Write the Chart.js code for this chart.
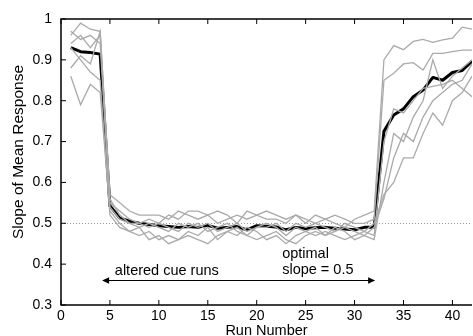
<!DOCTYPE html>
<html>
<head>
<meta charset="utf-8">
<script src="https://cdn.jsdelivr.net/npm/chart.js@4"></script>
<style>
html, body { margin: 0; padding: 0; background: #fff; }
</style>
</head>
<body>
<canvas id="chart" width="473" height="336"></canvas>
<script>
var runs = [1,2,3,4,5,6,7,8,9,10,11,12,13,14,15,16,17,18,19,20,21,22,23,24,25,26,27,28,29,30,31,32,33,34,35,36,37,38,39,40,41,42];

// individual subjects (grey)
var subj1 = [0.96,0.99,0.975,0.97, 0.57,0.55,0.53,0.52,0.52,0.52,0.51,0.53,0.52,0.51,0.52,0.50,0.51,0.52,0.51,0.52,0.51,0.51,0.50,0.52,0.51,0.50,0.51,0.50,0.49,0.51,0.52,0.53, 0.90,0.935,0.925,0.945,0.95,0.943,0.949,0.953,0.98,0.975];
var subj2 = [0.97,0.95,0.96,0.94, 0.55,0.53,0.51,0.50,0.51,0.50,0.52,0.51,0.53,0.53,0.52,0.53,0.52,0.50,0.53,0.52,0.53,0.52,0.51,0.52,0.50,0.52,0.51,0.52,0.51,0.50,0.50,0.51, 0.85,0.867,0.89,0.893,0.875,0.916,0.916,0.92,0.924,0.924];
var subj3 = [0.94,0.96,0.93,0.96, 0.54,0.51,0.50,0.49,0.50,0.49,0.48,0.50,0.49,0.50,0.48,0.49,0.50,0.48,0.47,0.49,0.50,0.49,0.47,0.49,0.48,0.49,0.47,0.48,0.49,0.48,0.47,0.46, 0.60,0.72,0.70,0.76,0.80,0.90,0.83,0.86,0.88,0.90];
var subj4 = [0.93,0.90,0.87,0.85, 0.52,0.49,0.48,0.47,0.48,0.46,0.47,0.46,0.48,0.47,0.49,0.46,0.48,0.47,0.49,0.48,0.46,0.47,0.45,0.47,0.48,0.47,0.48,0.47,0.46,0.47,0.48,0.47, 0.70,0.78,0.77,0.80,0.83,0.835,0.84,0.85,0.83,0.81];
var subj5 = [0.86,0.79,0.84,0.82, 0.53,0.50,0.48,0.49,0.46,0.47,0.45,0.46,0.47,0.46,0.45,0.47,0.48,0.49,0.47,0.46,0.47,0.48,0.46,0.45,0.47,0.48,0.47,0.49,0.48,0.46,0.47,0.49, 0.56,0.66,0.72,0.70,0.76,0.80,0.82,0.84,0.85,0.89];
var subj6 = [0.88,0.91,0.89,0.97, 0.56,0.52,0.50,0.50,0.49,0.50,0.49,0.48,0.50,0.49,0.50,0.48,0.49,0.50,0.48,0.49,0.49,0.50,0.48,0.50,0.49,0.50,0.49,0.48,0.50,0.49,0.48,0.50, 0.57,0.60,0.66,0.66,0.72,0.77,0.74,0.80,0.82,0.86];

// mean over subjects (black)
var meanSlope = [0.93,0.92,0.918,0.914, 0.543,0.513,0.505,0.50,0.497,0.494,0.492,0.49,0.492,0.49,0.495,0.488,0.49,0.492,0.484,0.494,0.493,0.491,0.484,0.49,0.487,0.489,0.49,0.488,0.486,0.484,0.49,0.49, 0.725,0.765,0.78,0.81,0.826,0.857,0.85,0.869,0.874,0.897];

var xTicks = [0,5,10,15,20,25,30,35,40];
var yTicks = [0.3,0.4,0.5,0.6,0.7,0.8,0.9,1];

var FONT = '"Liberation Sans", Arial, sans-serif';

function pts(vals) {
	return runs.map(function(r, i) { return {x: r, y: vals[i]}; });
}

var subjects = [subj1, subj2, subj3, subj4, subj5, subj6];
var datasets = subjects.map(function(s) {
	return {
		data: pts(s),
		borderColor: '#aaaaaa',
		borderWidth: 1.3,
		pointRadius: 0,
		tension: 0
	};
});
datasets.push({
	data: pts(meanSlope),
	borderColor: '#000000',
	borderWidth: 3,
	pointRadius: 0,
	tension: 0,
	borderJoinStyle: 'round'
});

var decor = {
	id: 'decor',
	beforeDatasetsDraw: function(chart) {
		var ctx = chart.ctx, a = chart.chartArea, y = chart.scales.y;
		var py = Math.round(y.getPixelForValue(0.5)) + 0.5;
		ctx.save();
		ctx.strokeStyle = '#999';
		ctx.lineWidth = 1;
		ctx.setLineDash([1, 2]);
		ctx.beginPath();
		ctx.moveTo(a.left, py);
		ctx.lineTo(a.right, py);
		ctx.stroke();
		ctx.restore();
	},
	afterDraw: function(chart) {
		var ctx = chart.ctx, a = chart.chartArea, x = chart.scales.x, y = chart.scales.y;
		ctx.save();
		ctx.fillStyle = '#000';
		ctx.strokeStyle = '#000';

		// frame and inward ticks
		var left = x.getPixelForValue(0), right = x.getPixelForValue(42);
		var top = y.getPixelForValue(1), bottom = y.getPixelForValue(0.3);
		ctx.lineWidth = 1.5;
		ctx.beginPath();
		ctx.moveTo(right, top);
		ctx.lineTo(left, top);
		ctx.lineTo(left, bottom);
		ctx.lineTo(right, bottom);
		ctx.stroke();
		ctx.lineWidth = 1;
		ctx.beginPath();
		xTicks.forEach(function(v) {
			var px = x.getPixelForValue(v);
			ctx.moveTo(px, bottom); ctx.lineTo(px, bottom - 5);
			ctx.moveTo(px, top); ctx.lineTo(px, top + 5);
		});
		yTicks.forEach(function(v) {
			var ty = y.getPixelForValue(v);
			ctx.moveTo(left, ty); ctx.lineTo(left + 5, ty);
		});
		ctx.stroke();

		// double arrow for altered cue runs
		var ay = Math.round(y.getPixelForValue(0.36));
		var x0 = x.getPixelForValue(4.2), x1 = x.getPixelForValue(32.1);
		ctx.fillRect(x0 + 4, ay, x1 - x0 - 8, 1);
		ctx.beginPath();
		ctx.moveTo(x0, ay + 0.5); ctx.lineTo(x0 + 7, ay - 2.8); ctx.lineTo(x0 + 7, ay + 3.8); ctx.closePath();
		ctx.fill();
		ctx.beginPath();
		ctx.moveTo(x1, ay + 0.5); ctx.lineTo(x1 - 7, ay - 2.8); ctx.lineTo(x1 - 7, ay + 3.8); ctx.closePath();
		ctx.fill();

		// annotation text
		ctx.font = '14.5px ' + FONT;
		ctx.textAlign = 'left';
		ctx.textBaseline = 'alphabetic';
		ctx.fillText('altered cue runs', x.getPixelForValue(5.5), y.getPixelForValue(0.373));
		ctx.fillText('optimal', x.getPixelForValue(22.6), y.getPixelForValue(0.415));
		ctx.fillText('slope = 0.5', x.getPixelForValue(22.6), y.getPixelForValue(0.376));

		// axis titles
		ctx.textAlign = 'center';
		ctx.fillText('Run Number', (a.left + a.right) / 2, 335);
		ctx.translate(23, 152);
		ctx.rotate(-Math.PI / 2);
		ctx.font = '15.5px ' + FONT;
		ctx.fillText('Slope of Mean Response', 0, 0);
		ctx.restore();
	}
};

var config = {
	type: 'line',
	data: { datasets: datasets },
	options: {
		responsive: false,
		animation: false,
		devicePixelRatio: 1,
		layout: { padding: { top: 19, right: 1, left: 0, bottom: 0 } },
		plugins: { legend: { display: false }, tooltip: { enabled: false } },
		scales: {
			x: {
				type: 'linear',
				min: 0,
				max: 42,
				grid: { display: false, drawTicks: false },
				border: { display: false },
				afterBuildTicks: function(s) { s.ticks = xTicks.map(function(v) { return {value: v}; }); },
				afterFit: function(s) { s.height = 31; },
				ticks: { color: '#000', font: { family: FONT, size: 14 }, padding: 3, maxRotation: 0 }
			},
			y: {
				min: 0.3,
				max: 1,
				grid: { display: false, drawTicks: false },
				border: { display: false },
				afterBuildTicks: function(s) { s.ticks = yTicks.map(function(v) { return {value: v}; }); },
				afterFit: function(s) { s.width = 61; },
				ticks: {
					color: '#000',
					font: { family: FONT, size: 14 },
					padding: 9,
					callback: function(v) { return v === 1 ? '1' : v.toFixed(1); }
				}
			}
		}
	},
	plugins: [decor]
};

window.onload = function() {
	window.myChart = new Chart(document.getElementById('chart'), config);
};
</script>
</body>
</html>
